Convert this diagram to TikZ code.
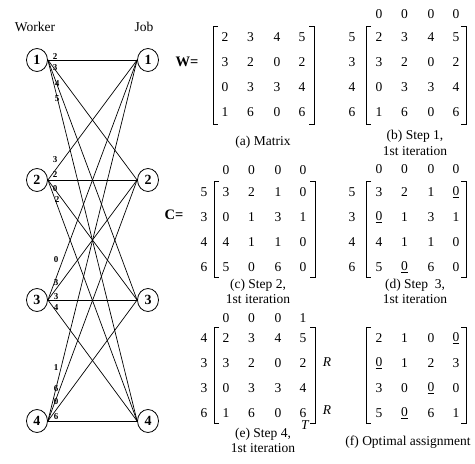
\documentclass[tikz,border=0pt]{standalone}
\usepackage{fontspec}
\setmainfont{Liberation Serif}
\usetikzlibrary{shapes.geometric}
\newcommand\mygrid[4]{%
  \foreach \a/\b/\c/\d [count=\r] in {#4} {
    \node[txt] (#1-\r-1) at (#2, {#3+25*(\r-1)}) {\a};
    \node[txt] (#1-\r-2) at ({#2+25.5}, {#3+25*(\r-1)}) {\b};
    \node[txt] (#1-\r-3) at ({#2+52}, {#3+25*(\r-1)}) {\c};
    \node[txt] (#1-\r-4) at ({#2+77}, {#3+25*(\r-1)}) {\d};
  }}
\newcommand\myhead[4]{%
  \foreach \v [count=\k] in {#4} {
    \node[txt] (#1-h\k) at ({#2+(\k==1?0:(\k==2?25.5:(\k==3?52:77)))}, #3) {\v};
  }}
\newcommand\myrowlab[4]{%
  \foreach \v [count=\k] in {#4} {
    \node[txt] (#1-r\k) at (#2, {#3+25*(\k-1)}) {\v};
  }}
\newcommand\mybrk[4]{%
  \draw[brk] (#1+5,#3) -- (#1,#3) -- (#1,#4) -- (#1+5,#4);
  \draw[brk] (#2-5,#3) -- (#2,#3) -- (#2,#4) -- (#2-5,#4);}
\begin{document}
\begin{tikzpicture}[x=1pt,y=-1pt,
  vtx/.style={draw,ellipse,minimum width=21pt,minimum height=23pt,inner sep=0pt,line width=0.8pt,font=\fontsize{14}{14}\selectfont\bfseries},
  wedge/.style={line width=0.7pt},
  wl/.style={font=\fontsize{9}{9}\selectfont\bfseries,inner sep=0pt},
  txt/.style={font=\fontsize{13.5}{14}\selectfont,inner sep=0pt},
  captxt/.style={font=\fontsize{13.5}{15.5}\selectfont,align=center,inner sep=0pt},
  brk/.style={line width=0.8pt}]
\useasboundingbox (0,0) rectangle (475,464);
% bipartite graph
\node[txt] (worker) at (35,27) {Worker};
\node[txt] (job) at (144,27) {Job};
\foreach \i/\y in {1/60,2/180,3/300,4/421} {
  \node[vtx] (w\i) at (37,\y) {\i};
  \node[vtx] (j\i) at (148,\y) {\i};
}
\foreach \i in {1,...,4} \foreach \j in {1,...,4} \draw[wedge] (w\i.east) -- (j\j.west);
% weights
\node[wl] (l11) at (55,57) {2};
\node[wl] (l12) at (55,68) {3};
\node[wl] (l13) at (57,84) {4};
\node[wl] (l14) at (57,99) {5};
\node[wl] (l21) at (55,160) {3};
\node[wl] (l22) at (55,175) {2};
\node[wl] (l23) at (55,189) {0};
\node[wl] (l24) at (57,200) {2};
\node[wl] (l31) at (56,260) {0};
\node[wl] (l32) at (56,283) {3};
\node[wl] (l33) at (56,297) {3};
\node[wl] (l34) at (56,308) {4};
\node[wl] (l41) at (56,368) {1};
\node[wl] (l42) at (56,389) {6};
\node[wl] (l43) at (56,402) {0};
\node[wl] (l44) at (56,417) {6};
% (a)
\node[font=\fontsize{14.5}{14}\selectfont\bfseries,inner sep=0pt] (W) at (187,62) {W=};
\mygrid{a}{225}{37}{2/3/4/5,3/2/0/2,0/3/3/4,1/6/0/6}
\mybrk{213}{314}{26}{124}
\node[captxt] (capa) at (263,142) {(a) Matrix};
% (b)
\myhead{b}{379}{14}{0,0,0,0}
\myrowlab{b}{352}{37}{5,3,4,6}
\mygrid{b}{379}{37}{2/3/4/5,3/2/0/2,0/3/3/4,1/6/0/6}
\mybrk{366}{466}{26}{124}
\node[captxt] (capb) at (415,143) {(b) Step 1,\\1st iteration};
% (c)
\node[font=\fontsize{14.5}{14}\selectfont\bfseries,inner sep=0pt] (C) at (174,215) {C=};
\myhead{c}{226}{170}{0,0,0,0}
\myrowlab{c}{204}{192}{5,3,4,6}
\mygrid{c}{226}{192}{3/2/1/0,0/1/3/1,4/1/1/0,5/0/6/0}
\mybrk{214}{315}{181}{277}
\node[captxt] (capc) at (258,291.5) {(c) Step 2,\\1st iteration};
% (d)
\myhead{d}{379}{169}{0,0,0,0}
\myrowlab{d}{352}{192}{5,3,4,6}
\mygrid{d}{379}{192}{3/2/1/\underline{0},\underline{0}/1/3/1,4/1/1/0,5/\underline{0}/6/0}
\mybrk{366}{466}{181}{277}
\node[captxt] (capd) at (415,291.5) {(d) Step\ \ 3,\\1st iteration};
% (e)
\myhead{e}{226}{318}{0,0,0,1}
\myrowlab{e}{204}{338}{4,3,3,6}
\mygrid{e}{226}{338}{2/3/4/5,3/2/0/2,0/3/3/4,1/6/0/6}
\mybrk{214}{315}{327}{423}
\node[txt,font=\fontsize{13.5}{14}\selectfont\itshape] (R1) at (327,362) {R};
\node[txt,font=\fontsize{13.5}{14}\selectfont\itshape] (R2) at (327,410) {R};
\node[txt,font=\fontsize{13.5}{14}\selectfont\itshape] (T) at (305,425) {T};
\node[captxt] (cape) at (263,440.5) {(e) Step 4,\\1st iteration};
% (f)
\mygrid{f}{379}{338}{2/1/0/\underline{0},\underline{0}/1/2/3,3/0/\underline{0}/0,5/\underline{0}/6/1}
\mybrk{366}{466}{327}{423}
\node[captxt] (capf) at (408,442) {(f) Optimal assignment};
\end{tikzpicture}
\end{document}
